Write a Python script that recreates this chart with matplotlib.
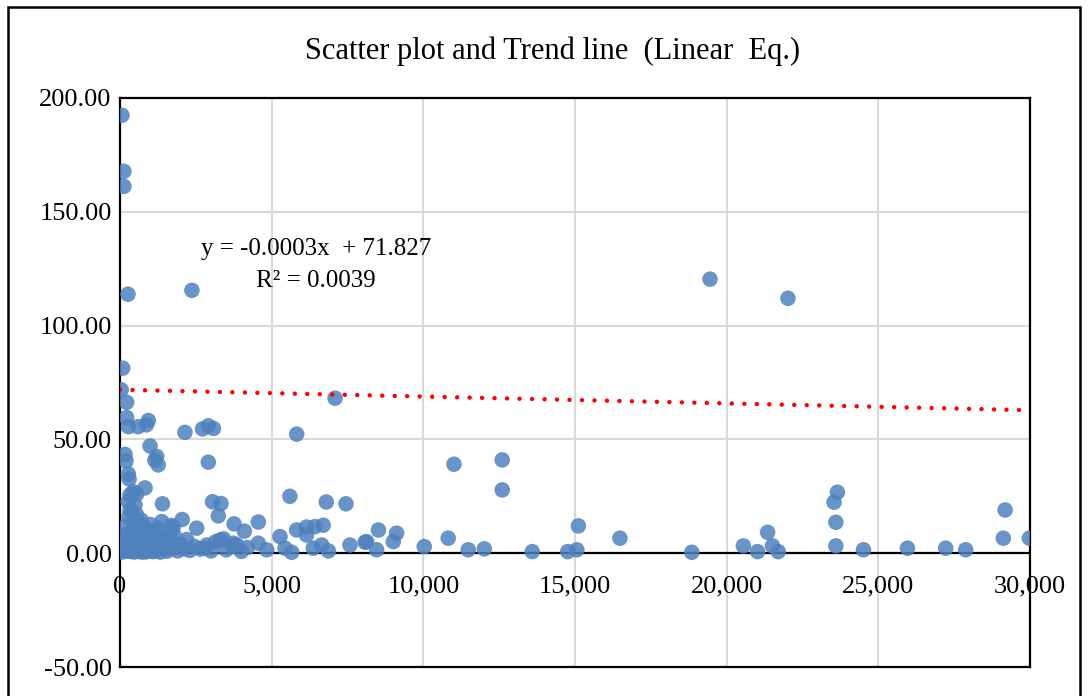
import matplotlib.pyplot as plt
import matplotlib.patches as patches
import numpy as np

plt.rcParams['font.family'] = ['Liberation Serif', 'DejaVu Serif']

# data points (x, y)
outliers = [(66, 192.4), (130, 167.8), (130, 161.2), (264, 113.8), (2370, 115.5),
            (19450, 120.4), (22020, 112.0)]
upper = [(90, 81.3), (40, 71.8), (220, 66.3), (220, 59.6), (275, 55.6), (600, 55.6),
         (935, 58.3), (870, 56.4), (2140, 53.1), (2720, 54.6), (2910, 56.0), (3080, 54.8),
         (5825, 52.3), (7090, 68.1), (990, 47.1), (165, 43.4), (200, 40.5), (1210, 42.5),
         (1150, 40.8), (1260, 38.8), (2910, 40.0), (275, 34.8), (300, 32.6), (825, 28.7),
         (440, 27.0), (330, 25.6), (550, 26.0), (270, 22.7), (495, 21.2), (1400, 21.7),
         (3050, 22.6), (3330, 21.8), (3240, 16.4), (5600, 25.0), (6800, 22.5), (7450, 21.7),
         (11010, 39.1), (12600, 41.0), (12600, 27.8), (23650, 26.8), (23540, 22.4),
         (29180, 19.0)]
middle = [(330, 19.0), (550, 16.8), (400, 18.0), (290, 16.0), (700, 14.5), (1375, 13.9),
          (990, 12.6), (1700, 12.2), (1760, 11.5), (2050, 14.8), (2530, 11.0), (3760, 12.9),
          (4560, 13.7), (6150, 11.5), (6430, 11.7), (6700, 12.3), (5825, 10.2), (4100, 9.7),
          (8520, 10.2), (9120, 8.8), (15110, 12.0), (21350, 9.2), (23600, 13.6), (750, 12.0),
          (900, 10.5), (1100, 9.5), (1250, 11.0), (450, 13.0), (620, 10.0), (200, 12.0),
          (350, 9.0)]
lower = [(100, 2), (150, 5), (200, 1), (250, 7), (300, 3), (350, 0.8), (400, 6), (450, 2),
         (500, 4), (550, 1), (600, 7.5), (650, 3), (700, 0.5), (750, 5), (800, 2), (850, 8),
         (900, 1), (950, 4), (1000, 6), (1050, 2), (1100, 0.7), (1150, 3), (1200, 5.5),
         (1300, 1.5), (1350, 7), (1450, 3), (1550, 0.9), (1600, 5), (1700, 2), (1800, 7.5),
         (1900, 1), (2000, 4), (2100, 2), (2200, 6), (2300, 1.2), (2450, 3), (2650, 1.8),
         (2800, 2.2), (2860, 3.6), (3000, 1), (3150, 5), (3300, 5.8), (3410, 6.3), (3500, 1.5),
         (3700, 3), (3730, 4.4), (3850, 3.7), (4000, 0.8), (4200, 2.5), (4560, 4.4),
         (4840, 1.5), (5275, 7.3), (5440, 2.2), (5660, 0.4), (6150, 8.0), (6370, 2.2),
         (6650, 3.6), (6870, 1.0), (7580, 3.6), (8080, 4.8), (8130, 5.1), (8460, 1.5),
         (9010, 5.1), (10030, 2.9), (10820, 6.6), (11480, 1.5), (12010, 1.9), (13590, 0.7),
         (14760, 0.7), (15060, 1.5), (16480, 6.6), (18850, 0.4), (20550, 3.2), (21020, 0.7),
         (21510, 3.2), (21700, 0.7), (23600, 3.2), (24510, 1.5), (25960, 2.2), (27220, 2.2),
         (27880, 1.5), (29120, 6.6), (29980, 6.6),
         (20, 1), (30, 4), (50, 6), (60, 2.5), (80, 0.5), (120, 3.5), (180, 8), (220, 2),
         (280, 5), (320, 1), (380, 3), (420, 9), (470, 0.5), (520, 5.5), (580, 2.5),
         (630, 4.5), (680, 1.5), (730, 8.5), (780, 3), (830, 0.5), (880, 6), (930, 2.5),
         (980, 9), (1030, 1), (1080, 4.5), (1130, 7), (1180, 1.5), (1230, 3), (1280, 6.5),
         (1330, 0.5), (1380, 4), (1500, 6), (1650, 8.5), (1750, 3.5)]

points = np.array(outliers + upper + middle + lower, dtype=float)
x = points[:, 0]
y = points[:, 1]

# trend line coefficients as printed on chart
slope = -0.0003
intercept = 71.827
r2 = 0.0039

xticks = [0, 5000, 10000, 15000, 20000, 25000, 30000]
yticks = [-50, 0, 50, 100, 150, 200]

fig = plt.figure(figsize=(10.88, 6.96), dpi=100)
ax = fig.add_axes([120 / 1088, 1 - 667 / 696, 910 / 1088, 569 / 696])

ax.set_xlim(0, 30000)
ax.set_ylim(-50, 200)
ax.set_xticks(xticks)
ax.set_yticks(yticks)
ax.grid(True, color='#d9d9d9', linewidth=1.5)
ax.set_axisbelow(True)
ax.tick_params(length=0)
ax.set_xticklabels([])
ax.set_yticklabels([f'{v:.2f}' for v in yticks], fontsize=19)
ax.tick_params(axis='y', pad=6)
for s in ax.spines.values():
    s.set_color('black')
    s.set_linewidth(1.6)

ax.axhline(0, color='black', linewidth=1.6, zorder=1)

# x tick labels sit just under the zero line
for v in xticks:
    ax.annotate(f'{v:,}', (v, 0), xytext=(0, -24), textcoords='offset points',
                ha='center', va='center', fontsize=19)

ax.scatter(x, y, s=125, color='#4F81BD', alpha=0.85, edgecolors='none', zorder=3)

xl = np.linspace(0, 30000, 200)
ax.plot(xl, slope * xl + intercept, color='#ff0000', linewidth=3.2,
        linestyle=(0, (0.01, 2.8)), dash_capstyle='round', zorder=4)

ax.text(6460, 133.5, f'y = {slope:.4f}x  + {intercept}', ha='center', va='center', fontsize=18)
ax.text(6460, 119.5, f'R² = {r2}', ha='center', va='center', fontsize=18)

fig.text(553 / 1088, 1 - 51 / 696, 'Scatter plot and Trend line  (Linear  Eq.)',
         ha='center', va='center', fontsize=22)

# chart area border
fig.patches.append(patches.Rectangle((8 / 1088, -0.05), 1072 / 1088, 1 - 7 / 696 + 0.05,
                                     transform=fig.transFigure, fill=False,
                                     edgecolor='black', linewidth=1.8))

fig.savefig('out.png', dpi=100)
